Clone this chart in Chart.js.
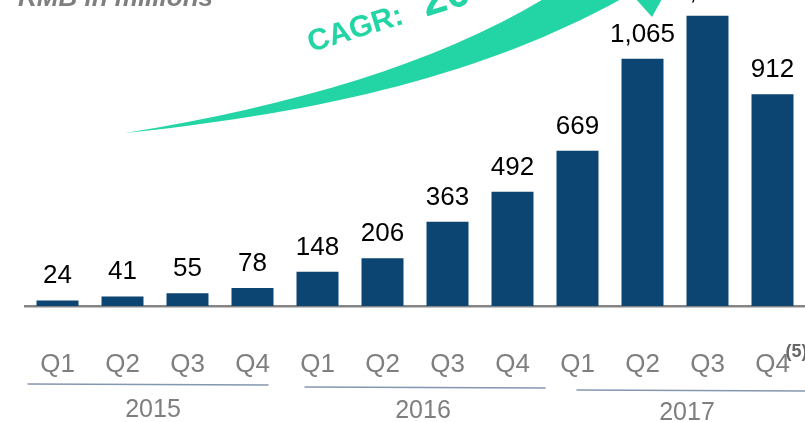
<!DOCTYPE html>
<html>
<head>
<meta charset="utf-8">
<script src="https://cdn.jsdelivr.net/npm/chart.js@4/dist/chart.umd.min.js"></script>
<style>
  html, body { margin: 0; padding: 0; background: #fff; }
  #wrap { width: 805px; height: 422px; position: relative; }
</style>
</head>
<body>
<div id="wrap"><canvas id="revenueChart"></canvas></div>
<script>
const quarters = ["Q1", "Q2", "Q3", "Q4", "Q1", "Q2", "Q3", "Q4", "Q1", "Q2", "Q3", "Q4"];
const years = ["2015", "2016", "2017"];
const revenue = [24, 41, 55, 78, 148, 206, 363, 492, 669, 1065, 1250, 912];
const unitLabel = "RMB in millions";
const cagrLabel = "CAGR:";
const cagrValue = "206%";
const footnote = "(5)";

const BAR_BLUE = "#0c4571";
const GREEN = "#23d4a5";
const GREY = "#7f7f7f";
const FONT = '"Liberation Sans", Arial, sans-serif';

// everything that isn't a bar: value labels, year groups, arrow, captions
const decorations = {
    id: "decorations",
    afterDraw(chart) {
        const ctx = chart.ctx;
        const xs = chart.scales.x;
        ctx.save();

        // VALUE LABELS
        ctx.font = "26px " + FONT;
        ctx.fillStyle = "#000";
        ctx.textAlign = "center";
        ctx.textBaseline = "alphabetic";
        chart.getDatasetMeta(0).data.forEach((bar, i) => {
            ctx.fillText(revenue[i].toLocaleString("en-US"), bar.x, bar.y - 17);
        });

        // YEAR GROUPS
        const lineShift = [-7, 10, 22];
        const textShift = [-2, 8, 12];
        years.forEach((year, g) => {
            const left = xs.getPixelForValue(g * 4);
            const right = xs.getPixelForValue(g * 4 + 3);
            const ly = 384 + g * 3;
            ctx.strokeStyle = "#8497b0";
            ctx.lineWidth = 1.5;
            ctx.beginPath();
            ctx.moveTo(left - 23 + lineShift[g], ly);
            ctx.lineTo(right + 23 + lineShift[g], ly + 1);
            ctx.stroke();
            ctx.font = "25px " + FONT;
            ctx.fillStyle = GREY;
            ctx.textBaseline = "middle";
            ctx.fillText(year, (left + right) / 2 + textShift[g], 410 + g * 1.5);
        });

        // FOOTNOTE MARK
        ctx.font = "bold 18px " + FONT;
        ctx.fillStyle = "#666";
        ctx.textAlign = "left";
        ctx.fillText(footnote, xs.getPixelForValue(11) + 13, 352);

        // UNIT CAPTION (cut by the top edge)
        ctx.font = "italic bold 26px " + FONT;
        ctx.fillStyle = GREY;
        ctx.textBaseline = "alphabetic";
        ctx.fillText(unitLabel, 18, 6);

        // CAGR ARROW
        ctx.fillStyle = GREEN;
        ctx.beginPath();
        ctx.moveTo(125, 133);
        ctx.bezierCurveTo(300, 105, 445, 60, 550, -5);
        ctx.lineTo(625, -3);
        ctx.bezierCurveTo(490, 72, 330, 112, 125, 133);
        ctx.closePath();
        ctx.fill();
        ctx.beginPath();
        ctx.moveTo(626, -12);
        ctx.lineTo(668, -12);
        ctx.lineTo(652, 17);
        ctx.closePath();
        ctx.fill();

        ctx.translate(311, 52);
        ctx.rotate(-17 * Math.PI / 180);
        ctx.font = "bold 30px " + FONT;
        ctx.fillText(cagrLabel, 0, 0);
        const w = ctx.measureText(cagrLabel).width;
        ctx.font = "bold 44px " + FONT;
        ctx.fillText(cagrValue, w + 22, 0);

        ctx.restore();
    }
};

new Chart(document.getElementById("revenueChart"), {
    type: "bar",
    data: {
        labels: quarters,
        datasets: [{
            data: revenue,
            backgroundColor: BAR_BLUE,
            barPercentage: 0.646,
            categoryPercentage: 1
        }]
    },
    options: {
        responsive: true,
        maintainAspectRatio: false,
        animation: false,
        layout: { padding: { left: 25, right: 0, top: 0, bottom: 0 } },
        plugins: {
            legend: { display: false },
            tooltip: { enabled: false }
        },
        scales: {
            x: {
                grid: { display: false, drawTicks: false },
                border: { display: true, color: "#858585", width: 2.5 },
                ticks: {
                    color: GREY,
                    font: { size: 26, family: FONT },
                    padding: 43,
                    maxRotation: 0,
                    autoSkip: false
                },
                afterFit(scale) {
                    // fixed axis band so the plot ends at y=306
                    scale.height = 116;
                    scale.paddingLeft = 0;
                    scale.paddingRight = 0;
                }
            },
            y: {
                display: false,
                min: 0,
                max: 1318
            }
        }
    },
    plugins: [decorations]
});
</script>
</body>
</html>
